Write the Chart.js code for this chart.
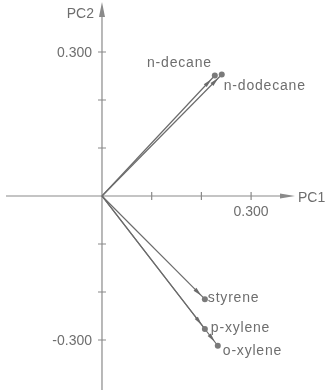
<!DOCTYPE html>
<html>
<head>
<meta charset="utf-8">
<script src="https://cdn.jsdelivr.net/npm/chart.js@4"></script>
<style>
  html, body { margin: 0; padding: 0; background: #fff; }
  canvas { display: block; }
</style>
</head>
<body>
<canvas id="loadings" width="325" height="390"></canvas>
<script>
// PCA loadings of the five compounds
const names = ['n-decane', 'n-dodecane', 'styrene', 'p-xylene', 'o-xylene'];
const pc1 = [0.227, 0.241, 0.207, 0.207, 0.233];
const pc2 = [0.251, 0.253, -0.215, -0.277, -0.312];

// axis ticks, only the outer ones carry a label
const xTicks = [0.1, 0.2, 0.3];
const yTicks = [-0.3, -0.2, -0.1, 0.1, 0.2, 0.3];
const xTickLabels = { 0.3: '0.300' };
const yTickLabels = { 0.3: '0.300', '-0.3': '-0.300' };

// where each name sits relative to its point
const labelPos = [
  { dx: -3, dy: -12, align: 'right' },
  { dx: 2, dy: 12, align: 'left' },
  { dx: 3, dy: -1, align: 'left' },
  { dx: 6, dy: -1, align: 'left' },
  { dx: 5, dy: 5, align: 'left' }
];

const lineCol = '#6b6b6b';
const axisCol = '#8a8a8a';
const textCol = '#6e6e6e';
const font = '14px "Liberation Sans", Arial, sans-serif';

function arrowHead(ctx, tx, ty, ux, uy, len, half) {
  ctx.beginPath();
  ctx.moveTo(tx, ty);
  ctx.lineTo(tx - ux * len - uy * half, ty - uy * len + ux * half);
  ctx.lineTo(tx - ux * len + uy * half, ty - uy * len - ux * half);
  ctx.closePath();
  ctx.fill();
}

const axesPlugin = {
  id: 'pcaAxes',
  beforeDatasetsDraw(chart) {
    const { ctx, chartArea } = chart;
    const xs = chart.scales.x, ys = chart.scales.y;
    const x0 = xs.getPixelForValue(0), y0 = ys.getPixelForValue(0);
    const xEnd = chartArea.right - 30, yTop = chartArea.top + 2;
    ctx.save();
    ctx.strokeStyle = axisCol;
    ctx.fillStyle = axisCol;
    ctx.lineWidth = 1.2;
    ctx.beginPath();
    ctx.moveTo(chartArea.left + 6, y0);
    ctx.lineTo(xEnd - 8, y0);
    ctx.moveTo(x0, yTop + 8);
    ctx.lineTo(x0, chartArea.bottom);
    xTicks.forEach(v => {
      const p = xs.getPixelForValue(v);
      ctx.moveTo(p, y0 - 4); ctx.lineTo(p, y0 + 4);
    });
    yTicks.forEach(v => {
      const p = ys.getPixelForValue(v);
      ctx.moveTo(x0 - 4, p); ctx.lineTo(x0 + 4, p);
    });
    ctx.stroke();
    arrowHead(ctx, xEnd, y0, 1, 0, 15, 2.5);
    arrowHead(ctx, x0, yTop, 0, -1, 15, 3);

    ctx.fillStyle = textCol;
    ctx.font = font;
    ctx.textBaseline = 'middle';
    ctx.textAlign = 'center';
    xTicks.forEach(v => {
      if (xTickLabels[v]) ctx.fillText(xTickLabels[v], xs.getPixelForValue(v), y0 + 16);
    });
    ctx.textAlign = 'right';
    yTicks.forEach(v => {
      if (yTickLabels[v]) ctx.fillText(yTickLabels[v], x0 - 10, ys.getPixelForValue(v) + 1);
    });
    ctx.fillText('PC2', x0 - 8, yTop + 12);
    ctx.textAlign = 'left';
    ctx.fillText('PC1', xEnd + 3, y0 + 2);
    ctx.restore();
  },
  afterDatasetsDraw(chart) {
    const { ctx } = chart;
    const xs = chart.scales.x, ys = chart.scales.y;
    const x0 = xs.getPixelForValue(0), y0 = ys.getPixelForValue(0);
    ctx.save();
    ctx.font = font;
    ctx.textBaseline = 'middle';
    ctx.letterSpacing = '0.8px';
    names.forEach((name, i) => {
      const px = xs.getPixelForValue(pc1[i]), py = ys.getPixelForValue(pc2[i]);
      const len = Math.hypot(px - x0, py - y0);
      const ux = (px - x0) / len, uy = (py - y0) / len;
      ctx.fillStyle = lineCol;
      arrowHead(ctx, px - ux * 5, py - uy * 5, ux, uy, 9, 2);
      const lp = labelPos[i];
      ctx.fillStyle = textCol;
      ctx.textAlign = lp.align;
      ctx.fillText(name, px + lp.dx, py + lp.dy);
    });
    ctx.restore();
  }
};

new Chart(document.getElementById('loadings').getContext('2d'), {
  type: 'scatter',
  data: {
    datasets: names.map((name, i) => ({
      label: name,
      data: [{ x: 0, y: 0 }, { x: pc1[i], y: pc2[i] }],
      showLine: true,
      borderColor: lineCol,
      borderWidth: 1.2,
      pointRadius: [0, 3],
      pointBackgroundColor: '#7a7a7a',
      pointBorderWidth: 0,
      clip: false
    }))
  },
  options: {
    responsive: false,
    animation: false,
    layout: { padding: 0, autoPadding: false },
    scales: {
      x: { type: 'linear', display: false, min: -0.2052, max: 0.4487 },
      y: { type: 'linear', display: false, min: -0.4042, max: 0.4083 }
    },
    plugins: { legend: { display: false }, tooltip: { enabled: false } }
  },
  plugins: [axesPlugin]
});
</script>
</body>
</html>
